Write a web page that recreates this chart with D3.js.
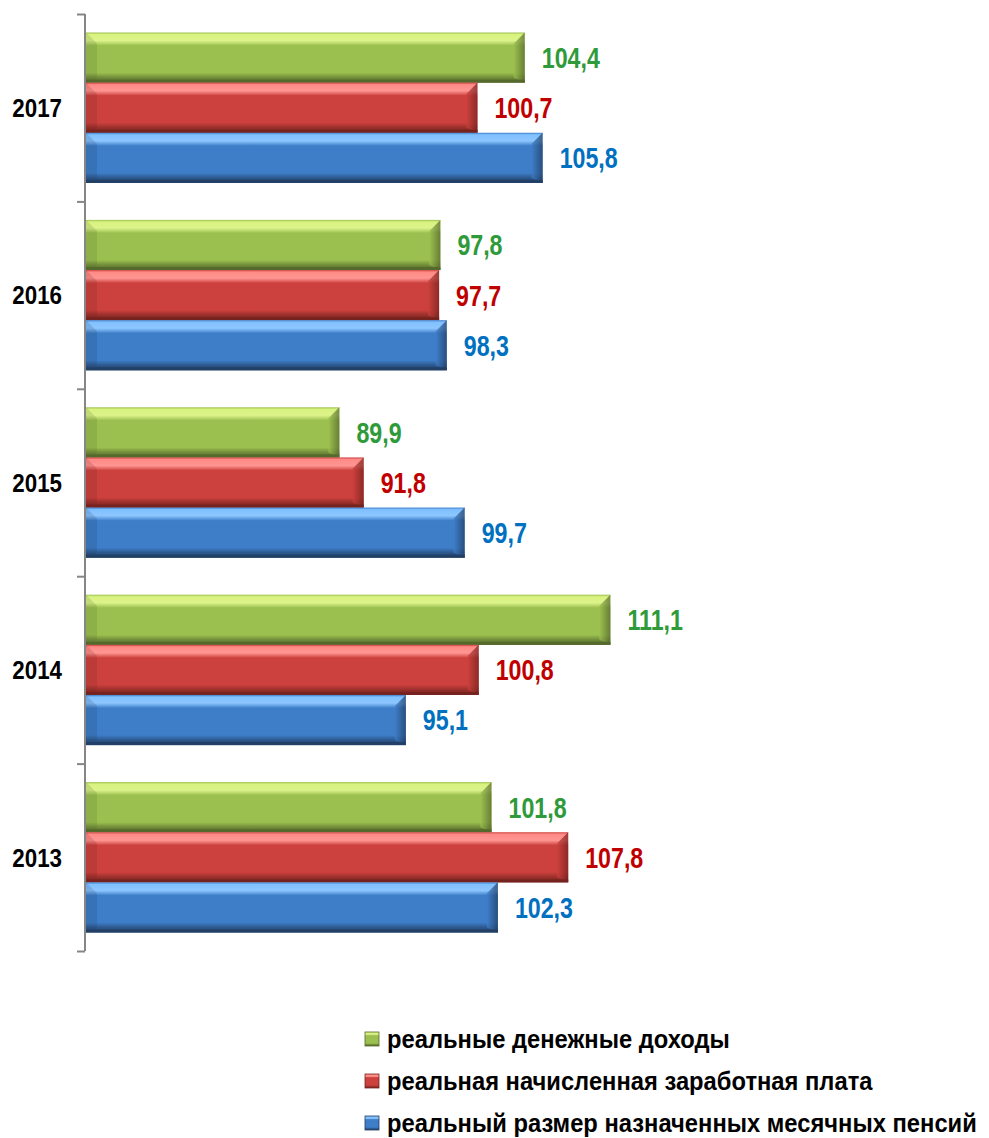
<!DOCTYPE html>
<html>
<head>
<meta charset="utf-8">
<script src="https://cdn.jsdelivr.net/npm/d3@7"></script>
<style>
  body { margin: 0; background: #fff; }
  text { font-family: "Liberation Sans", Arial, sans-serif; font-weight: bold; }
</style>
</head>
<body>
<script>
var width = 989;
var height = 1138;

// data
var years = ["2017", "2016", "2015", "2014", "2013"];
var seriesNames = ["реальные денежные доходы", "реальная начисленная заработная плата", "реальный размер назначенных месячных пенсий"];
var incomes = [104.4, 97.8, 89.9, 111.1, 101.8];
var wages = [100.7, 97.7, 91.8, 100.8, 107.8];
var pensions = [105.8, 98.3, 99.7, 95.1, 102.3];
var labelFmt = function (v) { return d3.format(".1f")(v).replace(".", ","); };

// colours: top highlight, main, bottom shade, label
var palette = [
  {light: "#d8f27e", main: "#9cc04f", dark: "#55692c", label: "#2f9a3a"},
  {light: "#ff8a86", main: "#cc403d", dark: "#76231f", label: "#c00000"},
  {light: "#80c0ff", main: "#3e7ec9", dark: "#223f66", label: "#0070c0"}
];

// narrow bold look: squeeze Liberation Sans horizontally
function narrow(sel, size, k) {
  sel.style("font-size", size + "px")
    .attr("transform", function () {
      return "translate(" + this.__x + "," + this.__y + ") scale(" + k + ",1)";
    });
}

var svg = d3.select("body").append("svg")
  .attr("width", width)
  .attr("height", height);

var defs = svg.append("defs");
palette.forEach(function (c, i) {
  var g = defs.append("linearGradient").attr("id", "grad" + i)
    .attr("x1", 0).attr("y1", 0).attr("x2", 0).attr("y2", 1);
  g.append("stop").attr("offset", "0%").attr("stop-color", c.main);
  g.append("stop").attr("offset", "4%").attr("stop-color", c.light);
  g.append("stop").attr("offset", "16%").attr("stop-color", c.light).attr("stop-opacity", 0.9);
  g.append("stop").attr("offset", "26%").attr("stop-color", c.main);
  g.append("stop").attr("offset", "80%").attr("stop-color", c.main);
  g.append("stop").attr("offset", "90%").attr("stop-color", d3.interpolateRgb(c.main, c.dark)(0.6));
  g.append("stop").attr("offset", "100%").attr("stop-color", c.dark);
  var r = defs.append("linearGradient").attr("id", "rgrad" + i)
    .attr("x1", 0).attr("y1", 0).attr("x2", 1).attr("y2", 0);
  r.append("stop").attr("offset", "0%").attr("stop-color", c.main);
  r.append("stop").attr("offset", "100%").attr("stop-color", c.dark);
});

var x = d3.scaleLinear().domain([70, 130]).range([85, 852]);
var y = d3.scaleBand().domain(years).range([14, 951]);
var ySub = d3.scaleBand().domain([0, 1, 2]).range([18.5, y.bandwidth() - 18.5]);

// axis
var yLin = d3.scaleLinear().domain([0, years.length]).range([951, 14]);
var axis = svg.append("g")
  .attr("transform", "translate(85,0)")
  .call(d3.axisLeft(yLin).tickValues(d3.range(years.length + 1)).tickSize(8).tickFormat(""));
axis.selectAll("path, line").attr("stroke", "#868686").attr("stroke-width", 2);
axis.select(".domain").attr("d", "M0,14V951");

// year labels
svg.selectAll(".year").data(years).enter().append("text")
  .attr("class", "year")
  .attr("dy", "0.36em")
  .attr("text-anchor", "end")
  .attr("fill", "#000")
  .each(function (d) { this.__x = 62; this.__y = y(d) + y.bandwidth() / 2; })
  .call(narrow, 26, 0.86)
  .text(function (d) { return d; });

var seriesValues = [incomes, wages, pensions];
var bev = 11;

seriesValues.forEach(function (vals, si) {
  var c = palette[si];
  var g = svg.append("g");
  var bars = g.selectAll("g").data(years).enter().append("g")
    .attr("transform", function (d) { return "translate(0," + (y(d) + ySub(si)) + ")"; });
  var h = ySub.bandwidth();
  bars.append("rect")
    .attr("x", x(70) + 1)
    .attr("y", 0)
    .attr("width", function (d, i) { return x(vals[i]) - x(70) - 1; })
    .attr("height", h)
    .attr("fill", "url(#grad" + si + ")");
  // right bevel
  bars.append("path")
    .attr("d", function (d, i) {
      var xr = x(vals[i]);
      return "M" + xr + ",0L" + (xr - bev) + "," + bev + "L" + (xr - bev) + "," + (h - 5) + "L" + xr + "," + h + "Z";
    })
    .attr("fill", "url(#rgrad" + si + ")")
    .attr("opacity", 0.75);
  // left bevel
  bars.append("path")
    .attr("d", function () {
      var xl = x(70) + 1;
      return "M" + xl + ",0L" + (xl + bev) + "," + bev + "L" + (xl + bev) + "," + (h - 5) + "L" + xl + "," + h + "Z";
    })
    .attr("fill", c.dark)
    .attr("opacity", 0.18);
  // bottom edge
  bars.append("rect")
    .attr("x", x(70) + 1)
    .attr("y", h - 3)
    .attr("width", function (d, i) { return x(vals[i]) - x(70) - 1; })
    .attr("height", 3)
    .attr("fill", c.dark);
  // value labels
  bars.append("text")
    .attr("dy", "0.36em")
    .attr("fill", c.label)
    .each(function (d, i) { this.__x = x(vals[i]) + 17; this.__y = h / 2; })
    .call(narrow, 29, 0.8)
    .text(function (d, i) { return labelFmt(vals[i]); });
});

// legend
var legend = svg.selectAll(".legend").data(seriesNames).enter().append("g")
  .attr("class", "legend")
  .attr("transform", function (d, i) { return "translate(365," + (1039 + i * 42) + ")"; });
legend.append("rect")
  .attr("x", 0).attr("y", -7).attr("width", 14).attr("height", 14)
  .attr("fill", function (d, i) { return "url(#grad" + i + ")"; })
  .attr("stroke", function (d, i) { return palette[i].dark; }).attr("stroke-width", 0.8);
legend.append("text")
  .attr("dy", "0.34em")
  .attr("fill", "#000")
  .each(function () { this.__x = 22; this.__y = 0; })
  .call(narrow, 25, 0.95)
  .text(function (d) { return d; });
</script>
</body>
</html>
